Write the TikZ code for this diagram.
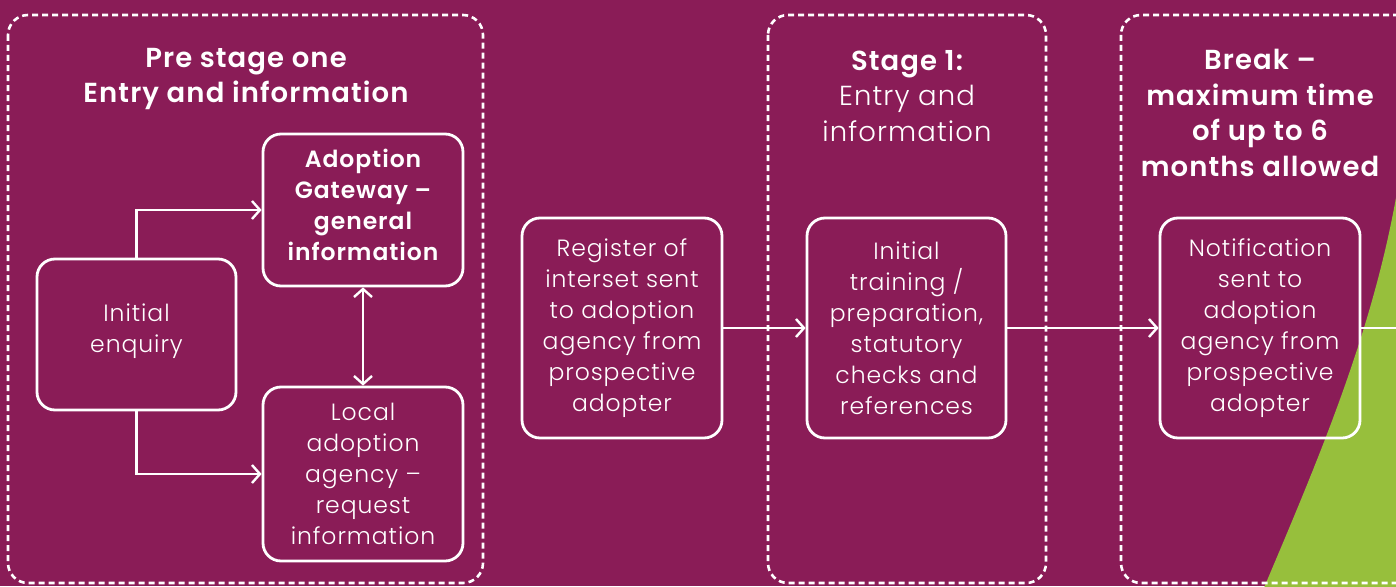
\documentclass[tikz,border=0pt]{standalone}
\usepackage{fontspec}
\setmainfont{Poppins}[UprightFont=* Light, BoldFont=* SemiBold, LetterSpace=4]
\usetikzlibrary{arrows.meta}
\definecolor{bgpurple}{RGB}{138,28,87}
\definecolor{leaf}{RGB}{151,191,60}
\tikzset{
  stagebox/.style={draw=white, line width=2.6pt, dash pattern=on 6pt off 4pt, rounded corners=20pt},
  procbox/.style={draw=white, line width=2.8pt, rounded corners=18pt, text=white, align=center,
     font=\fontsize{23.5}{31}\selectfont, inner sep=0pt},
  boxtext/.style={text=white, align=center, font=\fontsize{23.5}{31}\selectfont, inner sep=0pt},
  titletext/.style={text=white, align=center, font=\fontsize{27.5}{35.5}\selectfont\bfseries, inner sep=0pt},
  link/.style={draw=white, line width=2.4pt, -{Straight Barb[length=8pt,width=18pt,line width=2.4pt]}},
  biglink/.style={draw=white, line width=2.4pt, {Straight Barb[length=8pt,width=18pt,line width=2.4pt]}-{Straight Barb[length=8pt,width=18pt,line width=2.4pt]}},
  plainlink/.style={draw=white, line width=2.4pt}
}
\begin{document}
\begin{tikzpicture}[x=1pt,y=-1pt]
\fill[bgpurple] (0,0) rectangle (1396,586);
\useasboundingbox (0,0) rectangle (1396,586);
\clip (0,0) rectangle (1396,586);
\fill[leaf] (1263,590) .. controls (1318,460) and (1374,330) .. (1398,186) -- (1398,590) -- cycle;

% stage frames
\draw[stagebox] (8,15) rectangle (483,583);
\draw[stagebox] (768,15) rectangle (1046,583);
\draw[stagebox] (1121,15) rectangle (1440,583);

% titles
\node[titletext] (t0) at (246,79) {Pre stage one\\Entry and information};
\node[titletext] (t1) at (907,96) {Stage 1:\\\mdseries Entry and\\\mdseries information};
\node[titletext] (t2) at (1260,113) {Break –\\maximum time\\of up to 6\\months allowed};

% process boxes
\node[procbox, minimum width=199pt, minimum height=151pt] (enq) at (136.5,334.5) {};
\node[boxtext] (enqtext) at ([yshift=3pt]enq.center) {Initial\\enquiry};
\node[procbox, minimum width=200pt, minimum height=152pt] (gate) at (363,210) {};
\node[boxtext, font=\fontsize{23.5}{31}\selectfont\bfseries] (gatetext) at ([yshift=5pt]gate.center) {Adoption\\Gateway –\\general\\information};
\node[procbox, minimum width=200pt, minimum height=174pt] (local) at (363,474) {Local\\adoption\\agency –\\request\\information};
\node[procbox, minimum width=200pt, minimum height=220pt] (reg) at (622,328) {Register of\\interset sent\\to adoption\\agency from\\prospective\\adopter};
\node[procbox, minimum width=199pt, minimum height=220pt] (train) at (906.5,328) {Initial\\training /\\preparation,\\statutory\\checks and\\references};
\node[procbox, minimum width=200pt, minimum height=220pt] (notif) at (1260,328) {Notification\\sent to\\adoption\\agency from\\prospective\\adopter};
\coordinate (edge) at (1400,328);

% connectors
\draw[link] (enq.north) |- (gate.west);
\draw[link] (enq.south) |- (local.west);
\draw[biglink] (gate.south) -- (local.north);
\draw[link] (reg.east) -- (train.west);
\draw[link] (train.east) -- (notif.west);
\draw[plainlink] (notif.east) -- (edge);
\end{tikzpicture}
\end{document}
